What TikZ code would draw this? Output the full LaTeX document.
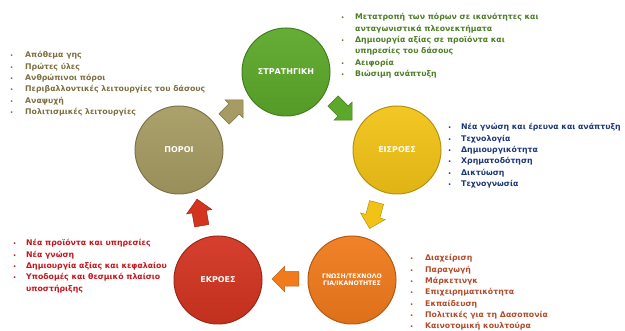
\documentclass[tikz,border=0pt]{standalone}
\usepackage{fontspec}
\setmainfont{DejaVu Sans}
\usetikzlibrary{shapes.arrows}

\newlength{\du}
\setlength{\du}{10pt}

\definecolor{porcolor}{RGB}{166,155,98}
\definecolor{stratcolor}{RGB}{92,168,42}
\definecolor{eiscolor}{RGB}{242,195,22}
\definecolor{gnocolor}{RGB}{240,122,28}
\definecolor{ekrcolor}{RGB}{210,52,32}
\definecolor{portext}{RGB}{126,112,66}
\definecolor{strattext}{RGB}{78,126,40}
\definecolor{eistext}{RGB}{30,56,120}
\definecolor{gnotext}{RGB}{178,76,42}
\definecolor{ekrtext}{RGB}{196,22,28}

\tikzset{
  stage/.style={circle, minimum size=88pt, inner sep=0pt, line width=1pt,
    top color=#1!94!white, bottom color=#1!92!black, draw=#1!75!black,
    text=white, align=center, font=\bfseries\fontsize{8}{9}\selectfont},
  flow/.style={single arrow, minimum height=27pt, inner sep=7pt,
    single arrow head extend=5.5pt, line width=0.5pt,
    fill=#1, draw=#1!75!black},
  itemlist/.style={anchor=base west, inner sep=0pt,
    font=\bfseries\fontsize{7.8}{11.3}\selectfont}
}
\newcommand{\itm}{{\fontsize{5}{5}\selectfont\textbullet}}

\begin{document}
\begin{tikzpicture}
\pgftransformyscale{-1.000000}
\useasboundingbox (0\du,0\du) rectangle (62.5\du,33.1\du);

% circles
\node[stage=stratcolor] (strat) at (28.6\du,7.2\du) {ΣΤΡΑΤΗΓΙΚΗ};
\node[stage=eiscolor] (eis) at (39.7\du,15.0\du) {ΕΙΣΡΟΕΣ};
\node[stage=gnocolor, font=\bfseries\fontsize{6.2}{7.8}\selectfont] (gno) at (35.2\du,28.0\du) {ΓΝΩΣΗ/ΤΕΧΝΟΛΟ\\ΓΙΑ/ΙΚΑΝΟΤΗΤΕΣ};
\node[stage=ekrcolor] (ekr) at (21.8\du,28.0\du) {ΕΚΡΟΕΣ};
\node[stage=porcolor] (por) at (17.9\du,15.0\du) {ΠΟΡΟΙ};

% block arrows
\node[flow=porcolor, rotate=45] (a1) at (23.1\du,11.2\du) {};
\node[flow=stratcolor, rotate=-45] (a2) at (34.0\du,10.8\du) {};
\node[flow=eiscolor, rotate=-105] (a3) at (37.4\du,21.2\du) {};
\node[flow=gnocolor, rotate=180] (a4) at (28.9\du,27.9\du) {};
\node[flow=ekrcolor, rotate=100] (a5) at (20.0\du,21.6\du) {};

% lists
\node[itemlist, text=portext] (lpor) at (1.0\du,5.8\du) {\begin{tabular}[t]{@{}p{15pt}@{}l@{}}
\itm & Απόθεμα γης\\
\itm & Πρώτες ύλες\\
\itm & Ανθρώπινοι πόροι\\
\itm & Περιβαλλοντικές λειτουργίες του δάσους\\
\itm & Αναψυχή\\
\itm & Πολιτισμικές λειτουργίες
\end{tabular}};
\node[itemlist, text=strattext] (lstrat) at (34.1\du,2.0\du) {\begin{tabular}[t]{@{}p{14pt}@{}l@{}}
\itm & Μετατροπή των πόρων σε ικανότητες και\\
 & ανταγωνιστικά πλεονεκτήματα\\
\itm & Δημιουργία αξίας σε προϊόντα και\\
 & υπηρεσίες του δάσους\\
\itm & Αειφορία\\
\itm & Βιώσιμη ανάπτυξη
\end{tabular}};
\node[itemlist, text=eistext] (leis) at (44.8\du,13.0\du) {\begin{tabular}[t]{@{}p{13pt}@{}l@{}}
\itm & Νέα γνώση και έρευνα και ανάπτυξη\\
\itm & Τεχνολογία\\
\itm & Δημιουργικότητα\\
\itm & Χρηματοδότηση\\
\itm & Δικτύωση\\
\itm & Τεχνογνωσία
\end{tabular}};
\node[itemlist, text=gnotext] (lgno) at (41.0\du,26.1\du) {\begin{tabular}[t]{@{}p{15pt}@{}l@{}}
\itm & Διαχείριση\\
\itm & Παραγωγή\\
\itm & Μάρκετινγκ\\
\itm & Επιχειρηματικότητα\\
\itm & Εκπαίδευση\\
\itm & Πολιτικές για τη Δασοπονία\\
\itm & Καινοτομική κουλτούρα
\end{tabular}};
\node[itemlist, text=ekrtext] (lekr) at (1.3\du,24.6\du) {\begin{tabular}[t]{@{}p{13pt}@{}l@{}}
\itm & Νέα προϊόντα και υπηρεσίες\\
\itm & Νέα γνώση\\
\itm & Δημιουργία αξίας και κεφαλαίου\\
\itm & Υποδομές και θεσμικό πλαίσιο\\
 & υποστήριξης
\end{tabular}};
\end{tikzpicture}
\end{document}
